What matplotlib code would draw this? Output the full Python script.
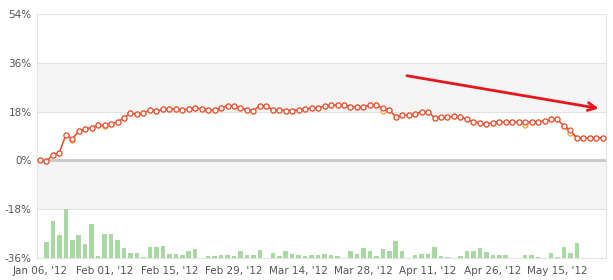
import numpy as np
import matplotlib
matplotlib.use("Agg")
import matplotlib.pyplot as plt

# Return curve (%), one value per trading day
returns = [0.0, -0.3, 2.0, 2.9, 9.3, 8.0, 10.8, 11.6, 12.1, 13.0,
           13.0, 13.6, 14.2, 15.7, 17.5, 17.1, 17.5, 18.5, 18.2, 18.8,
           19.1, 18.8, 18.5, 19.1, 19.3, 19.1, 18.7, 18.5, 19.5, 20.1,
           20.2, 19.4, 18.7, 18.4, 20.2, 20.1, 18.7, 18.7, 18.4, 18.4,
           18.7, 18.9, 19.3, 19.5, 20.0, 20.4, 20.4, 20.4, 19.8, 19.8,
           19.8, 20.4, 20.5, 19.2, 18.6, 16.1, 16.6, 16.7, 17.1, 17.9,
           18.0, 15.7, 16.0, 16.1, 16.2, 16.1, 15.2, 14.3, 13.8, 13.4,
           13.9, 14.3, 14.1, 14.1, 14.2, 14.2, 14.3, 14.3, 14.5, 15.1,
           15.1, 12.6, 11.2, 8.3, 8.2, 8.2, 8.3, 8.2]
# second (orange) series, mostly hidden under the red one
returns_low = list(returns)
for i, v in {5: 7.6, 10: 12.6, 53: 18.3, 75: 13.2, 82: 10.0}.items():
    returns_low[i] = v

# daily volume bars, height above the -36% baseline (in % units)
volume = [0.0, 5.8, 13.5, 8.5, 18.1, 6.7, 8.3, 5.1, 12.6, 0.7,
          8.8, 8.7, 6.7, 3.6, 1.7, 1.7, 0.2, 4.0, 4.1, 4.5,
          1.5, 1.5, 1.1, 2.4, 3.3, 0.1, 0.6, 0.6, 1.2, 1.1,
          0.6, 2.5, 1.1, 1.2, 3.1, 0.1, 1.9, 0.9, 2.5, 1.4,
          1.2, 0.9, 1.1, 1.1, 1.4, 1.1, 0.9, 0.1, 2.4, 1.5,
          3.6, 2.5, 0.7, 3.3, 2.5, 6.2, 2.6, 0.1, 1.1, 1.5,
          1.5, 4.2, 0.6, 0.2, 0.1, 0.9, 2.4, 2.5, 3.6, 2.1,
          1.2, 1.2, 1.1, 0.1, 0.1, 1.1, 1.2, 0.5, 0.1, 1.7,
          0.5, 4.2, 1.7, 5.5, 0.0, 0.0, 0.0, 0.0]

xtick_pos = [0, 10, 20, 30, 40, 50, 60, 70, 80]
xtick_labels = ["Jan 06, '12", "Feb 01, '12", "Feb 15, '12", "Feb 29, '12",
                "Mar 14, '12", "Mar 28, '12", "Apr 11, '12", "Apr 26, '12",
                "May 15, '12"]
yticks = [-36, -18, 0, 18, 36, 54]

# trend arrow (index, %)
arrow_start = (56.3, 31.4)
arrow_end = (86.8, 19.0)

x = np.arange(len(returns))
base = -36

fig = plt.figure(figsize=(6.13, 2.80), dpi=100)
ax = fig.add_axes([37 / 613, 22 / 280, 569 / 613, 244 / 280])

# alternating bands
ax.axhspan(18, 36, color="#f5f5f5", zorder=0, lw=0)
ax.axhspan(-18, 0, color="#f5f5f5", zorder=0, lw=0)
for y in yticks:
    ax.axhline(y, color="#e3e3e3", lw=0.8, zorder=1)
ax.axhline(0, color="#c8c8c8", lw=2, zorder=1)

ax.bar(x, volume, bottom=base, width=0.7, color="#a9d9a3", zorder=2)

ax.plot(x, returns_low, color="#f5a623", lw=1.0, marker="o", ms=3.6,
        mfc="white", mec="#f5a623", mew=0.9, zorder=3)
ax.plot(x, returns, color="#e8503f", lw=1.0, marker="o", ms=3.6,
        mfc="white", mec="#e8503f", mew=0.9, zorder=4)

ax.annotate("", xy=arrow_end, xytext=arrow_start,
            arrowprops=dict(arrowstyle="->", color="#e8161c", lw=2,
                            mutation_scale=14), zorder=5)

ax.set_xlim(-0.45, 87.5)
ax.set_ylim(-36, 54)
ax.set_yticks(yticks)
ax.set_yticklabels([f"{v}%" for v in yticks])
ax.set_xticks(xtick_pos)
ax.set_xticklabels(xtick_labels)
ax.tick_params(length=0, labelsize=7.5, colors="#555555", pad=4)
ax.tick_params(axis="x", pad=6)
for s in ax.spines.values():
    s.set_color("#e3e3e3")
    s.set_linewidth(0.8)

fig.savefig("out.png", dpi=100)
